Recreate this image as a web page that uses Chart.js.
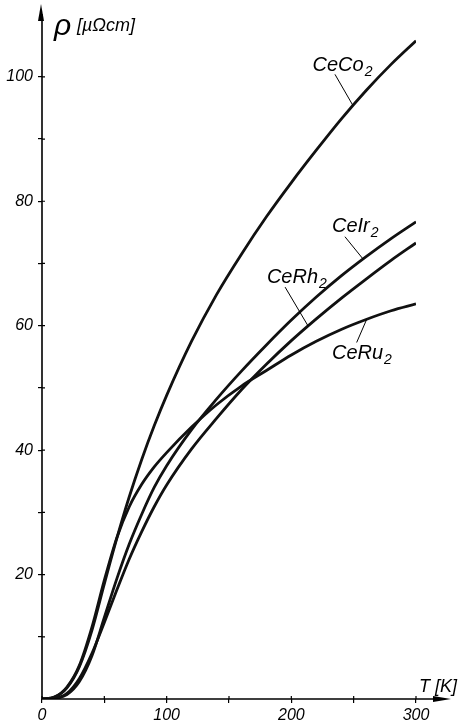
<!DOCTYPE html>
<html>
<head>
<meta charset="utf-8">
<script src="https://cdn.jsdelivr.net/npm/chart.js@4/dist/chart.umd.min.js"></script>
<style>
  html, body { margin: 0; padding: 0; background: #fff; }
  canvas { display: block; }
</style>
</head>
<body>
<canvas id="grafico" width="464" height="725"></canvas>
<script>
// Datos: T [K] y rho [µΩcm]
const temperaturas = [0, 10, 20, 30, 40, 50, 60, 70, 80, 90, 100, 120, 140, 160, 180, 200, 220, 240, 260, 280, 300];
const rhoCeCo2 = [0, 0.3, 1.8, 5.2, 11, 18.5, 25.8, 32.5, 38.5, 43.9, 48.8, 57.5, 65, 71.5, 77.5, 83, 88.2, 93.2, 97.8, 102, 105.8];
const rhoCeRu2 = [0, 0.3, 1.9, 5.4, 11.5, 19.1, 25.9, 30.9, 34.5, 37.3, 39.6, 43.7, 47.3, 50.3, 52.8, 55.3, 57.5, 59.4, 61, 62.4, 63.5];
const rhoCeIr2 = [0, 0.1, 0.7, 2.8, 6.9, 13.1, 19.3, 24.9, 29.7, 34, 37.5, 43.3, 48.2, 52.7, 56.9, 60.9, 64.6, 68, 71.1, 74, 76.7];
const rhoCeRh2 = [0, 0.1, 0.9, 3.3, 7.3, 12.3, 17.5, 22.5, 26.9, 30.9, 34.4, 40.2, 45.1, 49.7, 53.8, 57.6, 61.1, 64.4, 67.5, 70.5, 73.3];

const ticksX = [0, 50, 100, 150, 200, 250, 300];
const etiquetasX = [0, 100, 200, 300];
const etiquetasY = [20, 40, 60, 80, 100];

const series = [
  { nombre: "CeCo2", valores: rhoCeCo2 },
  { nombre: "CeRu2", valores: rhoCeRu2 },
  { nombre: "CeIr2", valores: rhoCeIr2 },
  { nombre: "CeRh2", valores: rhoCeRh2 }
];

// rotulos de cada curva (en coordenadas del grafico) con su linea de referencia
const rotulos = [
  { texto: "CeCo", sub: "2", t: 217, rho: 101, linea: [235, 100.4, 249.4, 95.4] },
  { texto: "CeIr", sub: "2", t: 232.6, rho: 75.1, linea: [243, 74.3, 257.6, 70.7] },
  { texto: "CeRh", sub: "2", t: 180.4, rho: 66.8, linea: [195, 66.2, 213.6, 59.9] },
  { texto: "CeRu", sub: "2", t: 232.6, rho: 54.6, linea: [252.4, 57.3, 260.4, 61] }
];

const fuente = "'Liberation Sans', Arial, sans-serif";

const dibujoEjes = {
  id: "dibujoEjes",
  afterDraw(chart) {
    const { ctx, scales } = chart;
    const x0 = scales.x.getPixelForValue(0);
    const y0 = scales.y.getPixelForValue(0);
    ctx.save();
    ctx.strokeStyle = "#000";
    ctx.fillStyle = "#000";
    ctx.lineWidth = 1.6;

    ctx.beginPath();
    ctx.moveTo(x0, y0);
    ctx.lineTo(440, y0);
    ctx.moveTo(x0, y0);
    ctx.lineTo(x0, 14);
    ctx.stroke();

    // flechas
    ctx.beginPath();
    ctx.moveTo(451, y0);
    ctx.lineTo(433, y0 - 3);
    ctx.lineTo(433, y0 + 3);
    ctx.closePath();
    ctx.fill();
    ctx.beginPath();
    ctx.moveTo(x0 - 1, 4);
    ctx.lineTo(x0 - 4, 21);
    ctx.lineTo(x0 + 2, 21);
    ctx.closePath();
    ctx.fill();

    // parte interior de las marcas
    ctx.lineWidth = 1.2;
    ctx.beginPath();
    scales.x.ticks.forEach(t => {
      const px = scales.x.getPixelForValue(t.value);
      ctx.moveTo(px, y0);
      ctx.lineTo(px, y0 - 3);
    });
    scales.y.ticks.forEach(t => {
      const py = scales.y.getPixelForValue(t.value);
      ctx.moveTo(x0, py);
      ctx.lineTo(x0 + 3, py);
    });
    ctx.stroke();

    // titulos de los ejes
    ctx.textBaseline = "alphabetic";
    ctx.font = `italic 30px ${fuente}`;
    ctx.fillText("ρ", x0 + 12, 35);
    ctx.font = `italic 18px ${fuente}`;
    ctx.fillText("[µΩcm]", x0 + 35, 31);
    ctx.fillText("T [K]", 419, 692);
    ctx.restore();
  }
};

const rotulosCurvas = {
  id: "rotulosCurvas",
  afterDatasetsDraw(chart) {
    const { ctx, scales } = chart;
    ctx.save();
    ctx.fillStyle = "#000";
    ctx.strokeStyle = "#000";
    ctx.lineWidth = 1;
    rotulos.forEach(r => {
      const px = scales.x.getPixelForValue(r.t);
      const py = scales.y.getPixelForValue(r.rho);
      ctx.font = `italic 20px ${fuente}`;
      ctx.fillText(r.texto, px, py);
      const ancho = ctx.measureText(r.texto).width;
      ctx.font = `italic 14px ${fuente}`;
      ctx.fillText(r.sub, px + ancho + 1, py + 5);

      const [t1, p1, t2, p2] = r.linea;
      ctx.beginPath();
      ctx.moveTo(scales.x.getPixelForValue(t1), scales.y.getPixelForValue(p1));
      ctx.lineTo(scales.x.getPixelForValue(t2), scales.y.getPixelForValue(p2));
      ctx.stroke();
    });
    ctx.restore();
  }
};

new Chart(document.getElementById("grafico"), {
  type: "line",
  data: {
    datasets: series.map(s => ({
      label: s.nombre,
      data: temperaturas.map((t, i) => ({ x: t, y: s.valores[i] })),
      borderColor: "#111",
      borderWidth: 2.8,
      pointRadius: 0,
      cubicInterpolationMode: "monotone",
      fill: false
    }))
  },
  options: {
    responsive: false,
    animation: false,
    layout: { padding: { top: 9, right: 48, left: 0, bottom: 0 } },
    plugins: {
      legend: { display: false },
      tooltip: { enabled: false }
    },
    scales: {
      x: {
        type: "linear",
        min: 0,
        max: 300,
        afterFit: s => { s.height = 26; },
        afterBuildTicks: s => { s.ticks = ticksX.map(v => ({ value: v })); },
        border: { display: false },
        grid: { drawOnChartArea: false, tickLength: 4, color: "#000", lineWidth: 1.2 },
        ticks: {
          padding: 3,
          color: "#000",
          maxRotation: 0,
          font: { family: fuente, size: 16, style: "italic" },
          callback: v => etiquetasX.includes(v) ? String(v) : ""
        }
      },
      y: {
        type: "linear",
        min: 0,
        max: 110,
        afterFit: s => { s.width = 42; },
        afterBuildTicks: s => { s.ticks = s.ticks.filter(t => t.value > 0 && t.value <= 100); },
        border: { display: false },
        grid: { drawOnChartArea: false, tickLength: 4, color: "#000", lineWidth: 1.2 },
        ticks: {
          stepSize: 10,
          padding: 5,
          color: "#000",
          font: { family: fuente, size: 16, style: "italic" },
          callback: v => etiquetasY.includes(v) ? String(v) : ""
        }
      }
    }
  },
  plugins: [dibujoEjes, rotulosCurvas]
});
</script>
</body>
</html>
